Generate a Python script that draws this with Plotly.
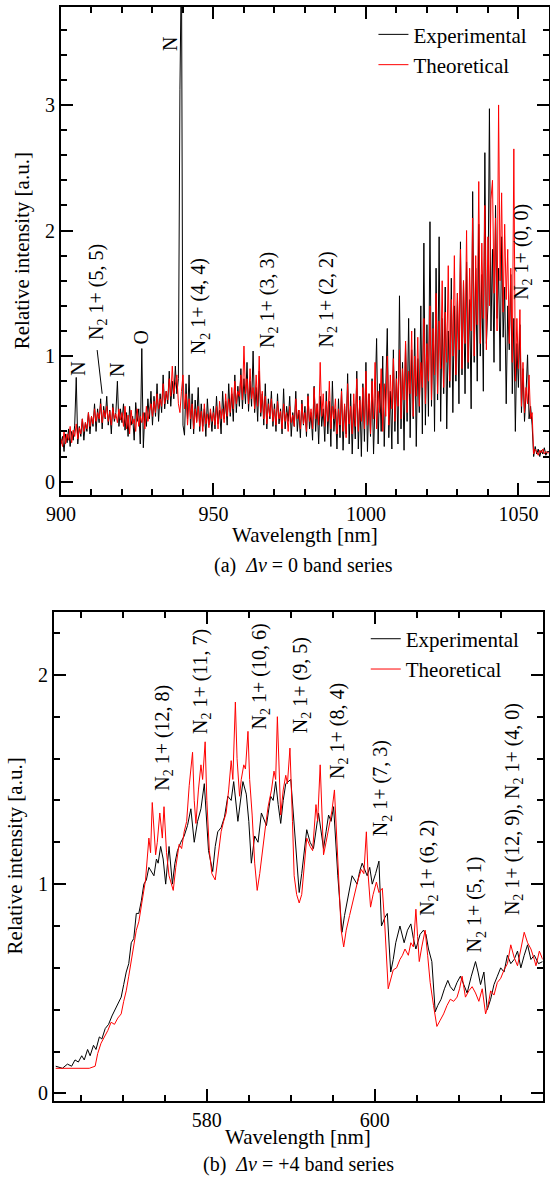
import numpy as np
import plotly.graph_objects as go

# ---- (a) dv = 0 band series, 900-1060 nm, one sample every 0.5 nm ----
wl_a_start = 900.0
wl_a_step = 0.5

exp_a = [
    0.30, 0.36, 0.24, 0.38, 0.31, 0.42, 0.28, 0.40, 0.33, 0.45, 0.83, 0.30, 0.44, 0.36, 0.50, 0.33, 0.47, 0.40, 0.55, 0.38,  # 900
    0.52, 0.44, 0.62, 0.40, 0.58, 0.47, 0.66, 0.42, 0.60, 0.50, 0.68, 0.45, 0.57, 0.38, 0.62, 0.48, 0.55, 0.80, 0.44, 0.58,  # 910
    0.47, 0.62, 0.41, 0.55, 0.36, 0.60, 0.45, 0.52, 0.33, 0.63, 0.48, 0.58, 0.30, 1.06, 0.27, 0.55, 0.44, 0.66, 0.50, 0.72,  # 920
    0.45, 0.68, 0.52, 0.78, 0.48, 0.70, 0.55, 0.85, 0.58, 0.72, 0.62, 0.88, 0.60, 0.80, 0.66, 0.92, 0.70, 0.82, 3.12, 4.20,  # 930
    0.45, 0.37, 0.78, 0.50, 0.85, 0.42, 0.70, 0.38, 0.65, 0.48, 0.75, 0.40, 0.62, 0.44, 0.58, 0.36, 0.66, 0.45, 0.55, 0.40,  # 940
    0.60, 0.42, 0.68, 0.46, 0.57, 0.38, 0.72, 0.50, 0.64, 0.45, 0.78, 0.52, 0.70, 0.48, 0.85, 0.55, 0.76, 0.60, 0.90, 0.58,  # 950
    0.82, 0.62, 0.95, 0.56, 0.80, 0.60, 1.04, 0.55, 0.75, 0.48, 0.88, 0.52, 0.70, 0.45, 0.78, 0.42, 0.66, 0.50, 0.72, 0.44,  # 960
    0.62, 0.40, 0.70, 0.46, 0.58, 0.38, 0.74, 0.42, 0.60, 0.48, 0.68, 0.36, 0.55, 0.44, 0.72, 0.40, 0.57, 0.35, 0.65, 0.45,  # 970
    0.60, 0.36, 0.70, 0.42, 0.55, 0.33, 0.76, 0.40, 0.62, 0.30, 0.68, 0.44, 0.58, 0.32, 0.72, 0.38, 0.64, 0.28, 0.80, 0.40,  # 980
    0.58, 0.26, 0.66, 0.35, 0.74, 0.25, 0.60, 0.38, 0.86, 0.30, 0.70, 0.22, 0.62, 0.34, 0.88, 0.26, 0.68, 0.20, 0.78, 0.32,  # 990
    0.95, 0.24, 0.70, 0.36, 0.82, 0.22, 0.66, 1.14, 0.30, 0.78, 0.40, 1.00, 0.28, 0.85, 1.22, 0.35, 0.72, 0.26, 1.05, 0.40,  # 1000
    0.88, 0.30, 1.48, 0.42, 0.95, 0.25, 1.10, 0.48, 1.30, 0.35, 1.05, 0.50, 1.22, 0.28, 0.98, 0.55, 1.40, 0.38, 1.90, 0.45,  # 1010
    1.25, 0.52, 2.07, 0.60, 1.35, 0.40, 1.70, 0.65, 1.95, 0.48, 1.30, 0.70, 1.55, 0.42, 1.20, 0.75, 1.62, 0.55, 1.40, 0.80,  # 1020
    1.50, 0.62, 1.91, 0.85, 1.60, 0.70, 1.75, 0.90, 1.45, 0.58, 2.31, 0.95, 1.70, 0.80, 2.05, 1.00, 1.65, 0.72, 2.62, 1.10,  # 1030
    1.40, 2.97, 1.20, 1.85, 0.95, 2.20, 1.30, 1.70, 0.88, 1.95, 1.15, 1.55, 0.62, 1.40, 1.05, 1.65, 0.70, 1.30, 0.40, 1.10,  # 1040
    0.75, 1.25, 0.55, 0.90, 0.48, 0.70, 1.01, 0.50, 0.60, 0.45, 0.20, 0.28, 0.22, 0.26, 0.20, 0.25, 0.22, 0.27, 0.21, 0.24,  # 1050
    0.24,
]

theo_a = [
    0.34, 0.28, 0.40, 0.30, 0.38, 0.33, 0.44, 0.31, 0.41, 0.36, 0.46, 0.34, 0.43, 0.38, 0.50, 0.40, 0.47, 0.42, 0.55, 0.44,  # 900
    0.52, 0.46, 0.58, 0.48, 0.55, 0.50, 0.62, 0.47, 0.57, 0.51, 0.60, 0.48, 0.56, 0.45, 0.59, 0.50, 0.54, 0.47, 0.58, 0.49,  # 910
    0.55, 0.44, 0.60, 0.42, 0.53, 0.38, 0.57, 0.46, 0.50, 0.40, 0.58, 0.44, 0.52, 0.47, 0.55, 0.42, 0.60, 0.48, 0.56, 0.62,  # 920
    0.52, 0.64, 0.55, 0.70, 0.58, 0.66, 0.60, 0.78, 0.62, 0.72, 0.65, 0.82, 0.68, 0.92, 0.70, 0.78, 0.85, 0.62, 0.55, 0.72,  # 930
    0.85, 0.58, 0.70, 0.45, 0.66, 0.50, 0.62, 0.42, 0.58, 0.47, 0.60, 0.44, 0.56, 0.40, 0.62, 0.46, 0.54, 0.43, 0.58, 0.48,  # 940
    0.55, 0.45, 0.60, 0.42, 0.64, 0.50, 0.58, 0.47, 0.70, 0.52, 0.66, 0.55, 0.75, 0.58, 0.80, 0.62, 0.72, 0.68, 0.85, 0.65,  # 950
    1.08, 0.70, 0.82, 0.62, 0.90, 0.66, 0.75, 0.58, 0.85, 0.60, 1.00, 0.55, 0.72, 0.50, 0.68, 0.46, 0.62, 0.52, 0.66, 0.48,  # 960
    0.58, 0.45, 0.64, 0.50, 0.56, 0.42, 0.62, 0.48, 0.55, 0.40, 0.60, 0.47, 0.53, 0.44, 0.66, 0.50, 0.57, 0.42, 0.62, 0.46,  # 970
    0.55, 0.40, 0.68, 0.48, 0.58, 0.42, 0.75, 0.50, 0.62, 0.45, 0.95, 0.52, 0.70, 0.44, 0.64, 0.48, 0.80, 0.42, 0.60, 0.50,  # 980
    0.66, 0.38, 0.58, 0.45, 0.72, 0.40, 0.62, 0.35, 0.78, 0.46, 0.60, 0.38, 0.70, 0.44, 0.82, 0.40, 0.65, 0.48, 0.75, 0.42,  # 990
    0.88, 0.45, 0.70, 0.38, 0.80, 0.50, 0.95, 0.42, 0.72, 0.55, 0.90, 0.40, 0.78, 0.52, 1.00, 0.45, 0.85, 0.58, 0.98, 0.48,  # 1000
    0.82, 0.60, 1.05, 0.50, 0.90, 0.65, 1.12, 0.55, 0.88, 0.70, 1.20, 0.52, 1.00, 0.68, 1.15, 0.60, 0.95, 0.75, 1.30, 0.62,  # 1010
    1.10, 0.80, 1.40, 0.65, 1.22, 0.85, 1.50, 0.70, 1.28, 0.90, 1.60, 0.75, 1.35, 0.95, 1.72, 0.80, 1.45, 1.00, 1.80, 0.85,  # 1020
    1.50, 1.05, 1.85, 0.90, 1.60, 1.10, 2.00, 0.95, 1.70, 1.20, 2.10, 1.00, 1.80, 1.25, 2.39, 1.10, 1.90, 1.30, 2.20, 1.05,  # 1030
    1.95, 1.40, 2.25, 2.40, 1.50, 2.10, 1.20, 3.00, 1.60, 2.30, 1.35, 2.05, 1.45, 1.85, 1.10, 1.70, 0.95, 2.65, 0.80, 1.30,  # 1040
    0.90, 1.37, 0.60, 0.95, 0.55, 0.75, 0.62, 0.85, 0.50, 0.55, 0.22, 0.26, 0.24, 0.21, 0.25, 0.23, 0.26, 0.22, 0.24, 0.23,  # 1050
    0.23,
]

# ---- (b) dv = +4 band series ----
wl_b_exp = [
    562.0, 562.8, 563.4, 563.9, 564.3, 564.7, 565.1, 565.4, 565.8, 566.1, 566.5, 566.8, 567.2, 567.5, 567.9, 568.3,
    568.7, 569.1, 569.5, 569.8, 570.1, 570.4, 570.7, 571.0, 571.3, 571.6, 571.9, 572.2, 572.5, 572.8, 573.1, 573.4,
    573.7, 574.0, 574.2, 574.5, 574.8, 575.1, 575.5, 575.9, 576.2, 576.5, 576.9, 577.3, 577.7, 578.1, 578.5, 578.9,
    579.3, 579.7, 580.2, 580.7, 581.0, 581.3, 581.7, 582.1, 582.5, 582.9, 583.2, 583.7, 584.0, 584.3, 584.7, 585.0,
    585.3, 585.7, 586.1, 586.5, 587.1, 587.6, 587.9, 588.2, 588.5, 588.8, 589.1, 589.4, 590.0, 590.3, 590.6, 591.0,
    591.3, 591.9, 592.3, 592.7, 593.3, 593.9, 594.2, 594.5, 594.8, 595.1, 595.6, 596.1, 596.4, 596.7, 597.0, 597.3,
    597.9, 598.2, 598.5, 599.1, 599.4, 599.7, 600.1, 600.5, 600.8, 601.2, 601.5, 601.9, 602.2, 602.5, 603.0, 603.5,
    603.9, 604.3, 604.6, 604.9, 605.4, 605.8, 606.1, 606.4, 606.8, 607.2, 607.5, 607.9, 608.3, 608.7, 609.0, 609.4,
    609.8, 610.2, 610.6, 611.0, 611.5, 612.0, 612.3, 612.6, 613.0, 613.4, 613.8, 614.2, 614.6, 615.0, 615.4, 615.8,
    616.2, 616.6, 617.0, 617.4, 617.8, 618.2, 618.6, 619.0, 619.5, 620.0,
]
exp_b = [
    0.13, 0.12, 0.14, 0.13, 0.16, 0.15, 0.18, 0.16, 0.21, 0.18, 0.23, 0.21, 0.27, 0.26, 0.31, 0.33,
    0.37, 0.40, 0.43, 0.46, 0.52, 0.58, 0.62, 0.72, 0.74, 0.86, 0.86, 0.92, 1.00, 1.02, 1.08, 1.06,
    1.04, 1.12, 1.10, 1.18, 1.12, 1.00, 1.18, 1.00, 1.10, 1.16, 1.20, 1.23, 1.28, 1.36, 1.20, 1.30,
    1.36, 1.48, 1.16, 1.06, 1.18, 1.25, 1.27, 1.32, 1.42, 1.40, 1.49, 1.30, 1.40, 1.49, 1.43, 1.30,
    1.10, 1.23, 1.20, 1.34, 1.28, 1.42, 1.40, 1.49, 1.38, 1.29, 1.40, 1.48, 1.50, 1.35, 1.17, 0.96,
    1.05, 1.26, 1.20, 1.17, 1.34, 1.17, 1.25, 1.33, 1.30, 1.37, 1.04, 0.77, 0.85, 0.91, 0.98, 1.04,
    1.00, 1.06, 1.10, 1.04, 1.08, 1.00, 1.05, 1.11, 0.80, 0.84, 0.86, 0.58, 0.64, 0.72, 0.80, 0.72,
    0.78, 0.81, 0.74, 0.69, 0.76, 0.78, 0.76, 0.69, 0.63, 0.39, 0.42, 0.45, 0.50, 0.54, 0.51, 0.49,
    0.53, 0.56, 0.52, 0.48, 0.56, 0.63, 0.58, 0.52, 0.58, 0.40, 0.45, 0.52, 0.56, 0.60, 0.58, 0.66,
    0.62, 0.64, 0.68, 0.60, 0.66, 0.71, 0.64, 0.66, 0.62, 0.63,
]

wl_b_theo = [
    562.0, 563.0, 564.0, 565.0, 566.0, 566.7, 567.0, 567.4, 567.8, 568.2, 568.6, 569.0, 569.4, 569.8, 570.1, 570.4,
    570.7, 571.0, 571.3, 571.6, 571.9, 572.1, 572.4, 572.7, 573.1, 573.3, 573.5, 573.9, 574.1, 574.4, 574.7, 574.9,
    575.2, 575.5, 576.0, 576.3, 576.7, 577.0, 577.3, 577.6, 577.9, 578.3, 578.5, 578.7, 579.0, 579.3, 579.5, 579.8,
    580.0, 580.3, 580.6, 581.0, 581.3, 581.7, 582.0, 582.3, 582.6, 582.9, 583.1, 583.4, 583.6, 583.9, 584.1, 584.4,
    584.6, 584.9, 585.1, 585.4, 585.7, 586.0, 586.3, 586.6, 587.0, 587.3, 587.7, 588.0, 588.2, 588.4, 588.6, 588.8,
    589.1, 589.4, 589.6, 589.9, 590.2, 590.4, 590.7, 591.0, 591.3, 591.6, 591.9, 592.3, 592.6, 593.0, 593.2, 593.5,
    593.7, 593.9, 594.2, 594.6, 594.9, 595.2, 595.5, 595.7, 596.0, 596.3, 596.6, 597.0, 597.3, 597.7, 598.0, 598.4,
    598.7, 599.0, 599.2, 599.5, 599.8, 600.2, 600.5, 600.9, 601.2, 601.6, 601.9, 602.2, 602.6, 603.0, 603.3, 603.6,
    604.0, 604.3, 604.6, 604.9, 605.1, 605.3, 605.6, 606.0, 606.3, 606.6, 607.0, 607.4, 607.8, 608.2, 608.6, 609.0,
    609.4, 609.8, 610.1, 610.4, 610.8, 611.2, 611.6, 612.0, 612.4, 612.8, 613.2, 613.5, 613.8, 614.2, 614.6, 615.0,
    615.4, 615.8, 616.2, 616.6, 617.0, 617.4, 617.8, 618.2, 618.6, 619.0, 619.2, 619.6, 620.0,
]
theo_b = [
    0.12, 0.12, 0.12, 0.12, 0.12, 0.13, 0.19, 0.24, 0.27, 0.30, 0.34, 0.33, 0.36, 0.38, 0.44, 0.49,
    0.56, 0.64, 0.70, 0.78, 0.82, 0.87, 0.95, 1.02, 1.22, 1.15, 1.39, 1.14, 1.20, 1.34, 1.22, 1.37,
    1.15, 1.04, 0.97, 1.08, 1.19, 1.17, 1.25, 1.30, 1.47, 1.63, 1.40, 1.29, 1.45, 1.57, 1.50, 1.68,
    1.40, 1.16, 1.05, 1.02, 1.12, 1.25, 1.30, 1.34, 1.45, 1.59, 1.50, 1.87, 1.60, 1.42, 1.50, 1.57,
    1.55, 1.73, 1.50, 1.33, 1.10, 0.97, 1.05, 1.16, 1.28, 1.37, 1.45, 1.54, 1.50, 1.80, 1.55, 1.33,
    1.45, 1.52, 1.48, 1.65, 1.30, 1.04, 0.95, 0.91, 0.95, 1.10, 1.22, 1.18, 1.16, 1.38, 1.30, 1.57,
    1.35, 1.14, 1.20, 1.29, 1.35, 1.45, 1.20, 1.00, 0.78, 0.70, 0.78, 0.85, 0.90, 0.97, 1.02, 1.07,
    1.05, 1.25, 1.05, 0.89, 0.95, 1.01, 0.96, 0.98, 0.80, 0.50, 0.55, 0.59, 0.60, 0.64, 0.66, 0.69,
    0.66, 0.72, 0.70, 0.88, 0.75, 0.63, 0.70, 0.78, 0.66, 0.53, 0.42, 0.32, 0.35, 0.38, 0.42, 0.45,
    0.44, 0.46, 0.50, 0.56, 0.46, 0.49, 0.51, 0.48, 0.44, 0.50, 0.38, 0.42, 0.49, 0.47, 0.53, 0.55,
    0.59, 0.62, 0.71, 0.65, 0.61, 0.70, 0.77, 0.72, 0.69, 0.64, 0.61, 0.68, 0.64,
]

labels_a = ["N", "N<sub>2</sub> 1+ (5, 5)", "N", "O", "N",
            "N<sub>2</sub> 1+ (4, 4)", "N<sub>2</sub> 1+ (3, 3)", "N<sub>2</sub> 1+ (2, 2)", "N<sub>2</sub> 1+ (0, 0)"]
labels_b = ["N<sub>2</sub> 1+ (12, 8)", "N<sub>2</sub> 1+ (11, 7)", "N<sub>2</sub> 1+ (10, 6)", "N<sub>2</sub> 1+ (9, 5)",
            "N<sub>2</sub> 1+ (8, 4)", "N<sub>2</sub> 1+ (7, 3)", "N<sub>2</sub> 1+ (6, 2)", "N<sub>2</sub> 1+ (5, 1)",
            "N<sub>2</sub> 1+ (12, 9), N<sub>2</sub> 1+ (4, 0)"]

wl_a = wl_a_start + wl_a_step * np.arange(len(exp_a))
wl_a_t = wl_a_start + wl_a_step * np.arange(len(theo_a))

FONT = "Liberation Serif"

fig = go.Figure()
fig.add_trace(go.Scatter(x=wl_a, y=exp_a, mode="lines", name="Experimental",
                         line=dict(color="black", width=1), xaxis="x", yaxis="y", legend="legend"))
fig.add_trace(go.Scatter(x=wl_a_t, y=theo_a, mode="lines", name="Theoretical",
                         line=dict(color="red", width=1), xaxis="x", yaxis="y", legend="legend"))
fig.add_trace(go.Scatter(x=wl_b_exp, y=exp_b, mode="lines", name="Experimental",
                         line=dict(color="black", width=1), xaxis="x2", yaxis="y2", legend="legend2"))
fig.add_trace(go.Scatter(x=wl_b_theo, y=theo_b, mode="lines", name="Theoretical",
                         line=dict(color="red", width=1), xaxis="x2", yaxis="y2", legend="legend2"))

ax = dict(showline=True, linecolor="black", linewidth=2, mirror="ticks", ticks="inside",
          ticklen=12, tickwidth=2, tickcolor="black", showgrid=False, zeroline=False, automargin=False,
          tickfont=dict(family=FONT, size=20, color="black"))


def minor(d):
    return dict(dtick=d, ticks="inside", ticklen=6, tickwidth=2, tickcolor="black", showgrid=False)


fig.update_layout(
    width=550, height=1185,
    margin=dict(l=0, r=0, t=0, b=0, autoexpand=False),
    paper_bgcolor="white", plot_bgcolor="white",
    font=dict(family=FONT, size=20, color="black"),
    xaxis=dict(ax, domain=[0.1109, 0.998], range=[900, 1060], dtick=50, tick0=900, minor=minor(10), anchor="y"),
    yaxis=dict(ax, domain=[0.5823, 0.9941], range=[-0.106, 3.78], dtick=1, tick0=0, minor=minor(0.2), anchor="x"),
    xaxis2=dict(ax, domain=[0.0982, 0.9867], range=[561.8, 620], dtick=20, tick0=560, minor=minor(5), anchor="y2"),
    yaxis2=dict(ax, domain=[0.0711, 0.4835], range=[-0.035, 2.3], dtick=1, tick0=0, minor=minor(0.2), anchor="x2"),
    legend=dict(x=0.679, y=0.988, xanchor="left", yanchor="top", bgcolor="rgba(0,0,0,0)",
                font=dict(family=FONT, size=21), tracegroupgap=0),
    legend2=dict(x=0.665, y=0.478, xanchor="left", yanchor="top", bgcolor="rgba(0,0,0,0)",
                 font=dict(family=FONT, size=21), tracegroupgap=0),
)

# peak labels, panel (a): (wavelength, intensity) of the text centre
pos_a = [(905.3, 0.90), (911.8, 1.51), (918.4, 0.89), (926.3, 1.15), (935.9, 3.49),
         (945.7, 1.40), (968.0, 1.45), (987.5, 1.45), (1051.5, 1.83)]
for txt, (x, y) in zip(labels_a, pos_a):
    fig.add_annotation(x=x, y=y, xref="x", yref="y", text=txt, textangle=-90, showarrow=False,
                       font=dict(family=FONT, size=20), xanchor="center", yanchor="middle")
# leader line from the (5, 5) label down to the band head
fig.add_annotation(x=913.5, y=0.70, ax=911.8, ay=1.06, xref="x", yref="y", axref="x", ayref="y",
                   text="", showarrow=True, arrowhead=0, arrowwidth=1, arrowcolor="black", standoff=0)

pos_b = [(574.8, 1.70), (579.3, 1.97), (586.4, 1.99), (591.2, 1.95), (595.7, 1.73),
         (600.9, 1.46), (606.4, 1.08), (612.0, 0.90), (616.5, 1.36)]
for txt, (x, y) in zip(labels_b, pos_b):
    fig.add_annotation(x=x, y=y, xref="x2", yref="y2", text=txt, textangle=-90, showarrow=False,
                       font=dict(family=FONT, size=20), xanchor="center", yanchor="middle")

# axis titles and captions
NB = "&nbsp;"
texts = [
    ("Relative intensity [a.u.]", 0.040, 0.788, -90, 21),
    ("Wavelength [nm]", 0.5545, 0.5485, 0, 21),
    ("(a)" + NB * 2 + "<i>Δv</i> = 0 band series", 0.552, 0.523, 0, 20),
    ("Relative intensity [a.u.]", 0.028, 0.2776, -90, 21),
    ("Wavelength [nm]", 0.5427, 0.0405, 0, 21),
    ("(b)" + NB * 2 + "<i>Δv</i> = +4 band series", 0.5427, 0.0169, 0, 20),
]
for txt, x, y, ang, sz in texts:
    fig.add_annotation(x=x, y=y, xref="paper", yref="paper", text=txt, textangle=ang, showarrow=False,
                       font=dict(family=FONT, size=sz), xanchor="center", yanchor="middle")

# the page body has a default 8px margin; drop it so the figure sits at the window corner
fig.write_html("out.html", config={"displayModeBar": False},
               post_script="document.body.style.margin='0px';")
